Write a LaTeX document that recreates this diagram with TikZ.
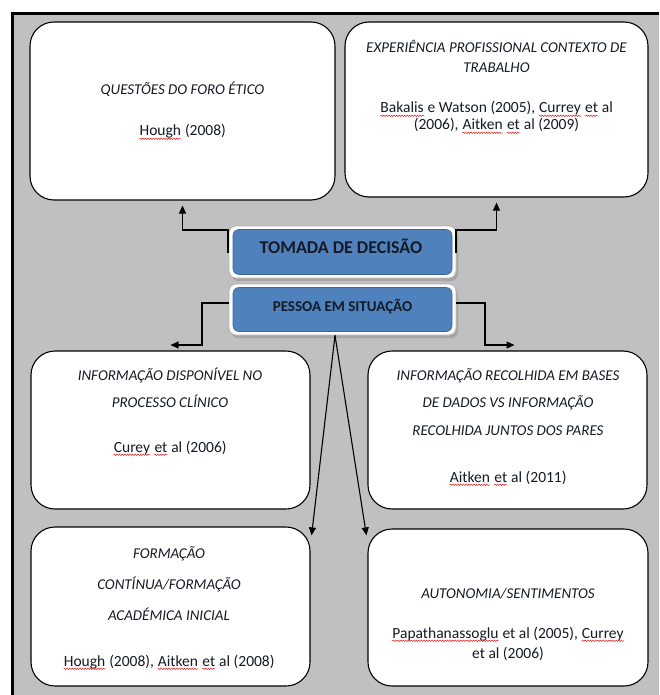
\documentclass[tikz,border=0pt]{standalone}
\usepackage{fontspec}
\setmainfont{Carlito}
\usetikzlibrary{arrows.meta,calc,decorations.pathmorphing}
\definecolor{bggray}{HTML}{C0C0C0}
\definecolor{blueF}{HTML}{4F81BD}
\definecolor{blueD}{HTML}{3C679C}
\definecolor{txtD}{HTML}{151A24}
\definecolor{sqred}{HTML}{E02020}
\newcommand\sq[1]{\tikz[baseline=(sqw.base)]{\node[inner sep=0pt, anchor=base] (sqw) at (0,0) {#1};
  \draw[sqred, line width=0.5pt, decorate, decoration={snake, amplitude=0.7pt, segment length=2.6pt}]
  ([yshift=-2.8pt]sqw.base west) -- ([yshift=-2.8pt]sqw.base east);}}
\tikzset{
  box/.style 2 args={draw=black, line width=1.1pt, fill=white, rounded corners=24pt,
    minimum width=#1pt, minimum height=#2pt, inner sep=0pt},
  glowbox/.style={draw=black!30, line width=0.8pt, fill=white, rounded corners=7pt,
    minimum width=227pt, inner sep=0pt},
  bluebox/.style={draw=blueD, line width=0.6pt, fill=blueF, rounded corners=6pt,
    minimum width=219pt, inner sep=0pt},
  hdr/.style={font=\itshape\fontsize{15}{18}\selectfont, anchor=base, inner sep=0pt, text=txtD},
  cit/.style={font=\fontsize{15.5}{18}\selectfont, anchor=base, inner sep=0pt, text=txtD},
  conn/.style={draw=black, line width=1.1pt, -{Triangle[length=8pt,width=7pt]}},
}
\begin{document}
\begin{tikzpicture}[x=1pt,y=-1pt]
\useasboundingbox (0,0) rectangle (659,695);
% background frame
\fill[bggray] (12,13) rectangle (659,695);
\draw[line width=3.5pt] (12.5,695) -- (12.5,13.5) -- (659,13.5);

% white boxes
\node[box={305}{178}] (tl) at (182.5,111) {};
\node[box={303}{175}] (tr) at (496.5,109.5) {};
\node[box={279}{158}] (ml) at (170.5,430) {};
\node[box={279}{158}] (mr) at (507.5,430) {};
\node[box={279}{159}] (bl) at (170.5,606.5) {};
\node[box={280}{157}] (br) at (508,607.5) {};

% central boxes
\fill[black!35, rounded corners=7pt] (231,229) rectangle (458,281);
\node[glowbox, minimum height=52pt] (tomo) at (342.5,252) {};
\node[bluebox, minimum height=45pt] (tomi) at (342.5,252) {};
\node[font=\bfseries\fontsize{18}{20}\selectfont, anchor=base, inner sep=0pt, text=txtD] (tomt) at (341,253.5) {TOMADA DE DECISÃO};

\fill[black!35, rounded corners=7pt] (231,287) rectangle (458,338);
\node[glowbox, minimum height=51pt] (peso) at (342.5,309.5) {};
\node[bluebox, minimum height=44pt] (pesi) at (342.5,309.5) {};
\node[font=\bfseries\fontsize{15}{18}\selectfont, anchor=base, inner sep=0pt, text=txtD] (pest) at (342.5,311) {PESSOA EM SITUAÇÃO};

% connectors
\draw[conn, shorten >=5pt] (tomo.west) -| (228,230) -| (tl.south);
\draw[conn, shorten >=5pt] (tomo.east) -| (456,230) -| (tr.south);
\draw[conn] (peso.west |- 0,303) -| (202,345) -- (ml.north |- 0,345);
\draw[conn] (peso.east |- 0,303) -| (485,345) -- ($(mr.north |- 0,345)+(7,0)$);
\draw[conn] ([xshift=-7.5pt]peso.south) -- ([xshift=1pt,yshift=-9pt]bl.north east);
\draw[conn] ([xshift=-7.5pt]peso.south) -- ([xshift=-1pt,yshift=-7pt]br.north west);

% texts
\node[hdr] (tl1) at (182.5,95) {QUESTÕES DO FORO ÉTICO};
\node[cit] (tl2) at (182.5,136) {\sq{Hough} (2008)};

\node[hdr] (tr1) at (496.5,52.5) {EXPERIÊNCIA PROFISSIONAL CONTEXTO DE};
\node[hdr] (tr2) at (496.5,73) {TRABALHO};
\node[cit] (tr3) at (496.5,113) {\sq{Bakalis} e Watson (2005), \sq{Currey} \sq{et} al};
\node[cit] (tr4) at (496.5,130) {(2006), \sq{Aitken} \sq{et} al (2009)};

\node[hdr] (ml1) at (170,380) {INFORMAÇÃO DISPONÍVEL NO};
\node[hdr] (ml2) at (170,407) {PROCESSO CLÍNICO};
\node[cit] (ml3) at (170,452) {\sq{Curey} \sq{et} al (2006)};

\node[hdr] (mr1) at (508,380) {INFORMAÇÃO RECOLHIDA EM BASES};
\node[hdr] (mr2) at (508,407) {DE DADOS VS INFORMAÇÃO};
\node[hdr] (mr3) at (508,435) {RECOLHIDA JUNTOS DOS PARES};
\node[cit] (mr4) at (508,482) {\sq{Aitken} \sq{et} al (2011)};

\node[hdr] (bl1) at (169,558) {FORMAÇÃO};
\node[hdr] (bl2) at (169,589) {CONTÍNUA/FORMAÇÃO};
\node[hdr] (bl3) at (169,620) {ACADÉMICA INICIAL};
\node[cit] (bl4) at (169,666) {\sq{Hough} (2008), \sq{Aitken} \sq{et} al (2008)};

\node[hdr] (br1) at (508,598) {AUTONOMIA/SENTIMENTOS};
\node[cit] (br2) at (508,638) {\sq{Papathanassoglu} et al (2005), \sq{Currey}};
\node[cit] (br3) at (508,658) {et al (2006)};
\end{tikzpicture}
\end{document}
